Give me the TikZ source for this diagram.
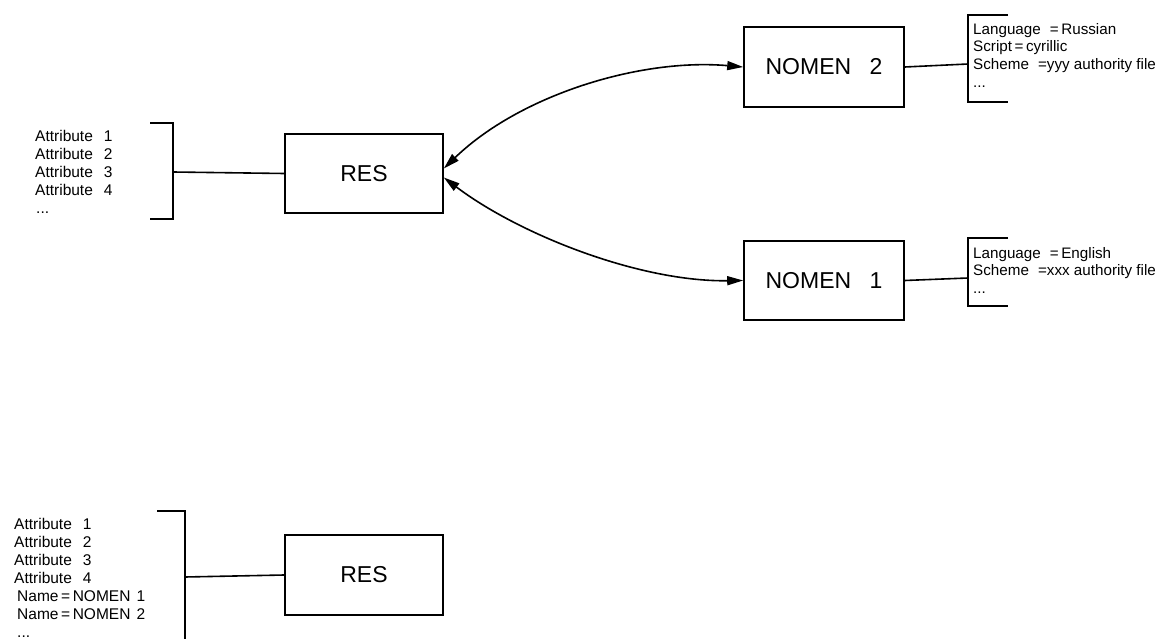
\documentclass[tikz,border=0pt]{standalone}
\usepackage{fontspec}
\setmainfont{Liberation Sans}
\usetikzlibrary{arrows.meta}
\tikzset{
  box/.style={draw, line width=1.6pt, inner sep=0pt, font=\fontsize{23}{27}\selectfont},
  ltext/.style={anchor=north west, inner sep=0pt, align=left, font=\fontsize{15.5}{18}\selectfont},
  rtext/.style={anchor=north west, inner sep=0pt, align=left, font=\fontsize{15.2}{17.6}\selectfont},
  brk/.style={line width=1.6pt},
  conn/.style={line width=1.6pt},
  arr/.style={line width=1.6pt, {Triangle[length=16pt,width=9pt]}-{Triangle[length=16pt,width=9pt]}},
}
\begin{document}
\begin{tikzpicture}[x=1pt,y=-1pt]
\useasboundingbox (0,0) rectangle (1164,639);
% boxes
\node[box, minimum width=158pt, minimum height=79pt] (res1) at (364,173.5) {RES};
\node[box, minimum width=160pt, minimum height=80pt] (nomen2) at (824,67) {NOMEN\hspace{0.8em}2};
\node[box, minimum width=160pt, minimum height=79pt] (nomen1) at (824,280.5) {NOMEN\hspace{0.8em}1};
\node[box, minimum width=158pt, minimum height=80pt] (res2) at (364,575) {RES};
% texts
\node[ltext] (attr1) at (35,130) {Attribute\hspace{0.7em}1\\Attribute\hspace{0.7em}2\\Attribute\hspace{0.7em}3\\Attribute\hspace{0.7em}4\\\hspace*{1pt}...};
\node[ltext] (attr2) at (14,518) {Attribute\hspace{0.7em}1\\Attribute\hspace{0.7em}2\\Attribute\hspace{0.7em}3\\Attribute\hspace{0.7em}4\\\hspace*{3pt}Name\,=\,NOMEN\hspace{0.4em}1\\\hspace*{3pt}Name\,=\,NOMEN\hspace{0.4em}2\\\hspace*{3pt}\smash{...}};
\node[rtext] (lang2) at (973,23) {Language\hspace{0.6em}=\,Russian\\Script\,=\,cyrillic\\Scheme\hspace{0.6em}=yyy authority file\\...};
\node[rtext] (lang1) at (973,247) {Language\hspace{0.6em}=\,English\\Scheme\hspace{0.6em}=xxx authority file\\...};
% brackets
\draw[brk] (150,123) -- (173,123) -- (173,219) -- (150,219);
\coordinate (b1) at (173,172);
\draw[brk] (1008,15) -- (968,15) -- (968,102) -- (1008,102);
\coordinate (b2) at (968,64);
\draw[brk] (1008,238) -- (968,238) -- (968,306) -- (1008,306);
\coordinate (b3) at (968,278);
\draw[brk] (157,511) -- (185,511) -- (185,642);
\coordinate (b4) at (185,577);
% connectors
\draw[conn] (b1) -- (res1.west);
\draw[conn] (nomen2.east) -- (b2);
\draw[conn] (nomen1.east) -- (b3);
\draw[conn] (b4) -- (res2.west);
\draw[arr] ([yshift=5pt]res1.east) .. controls (520,95) and (640,58) .. (nomen2.west);
\draw[arr] ([yshift=-4pt]res1.east) .. controls (520,235) and (640,282) .. (nomen1.west);
\end{tikzpicture}
\end{document}
